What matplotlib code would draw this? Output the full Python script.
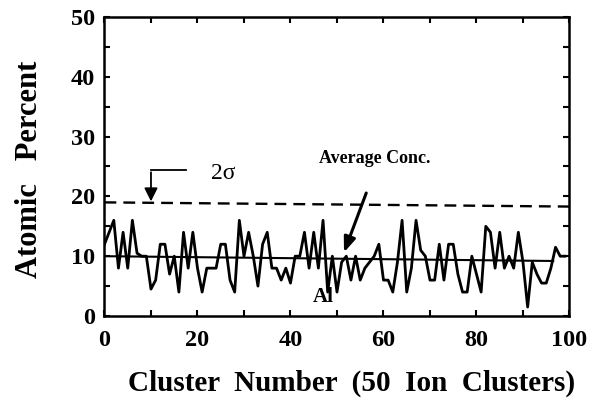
import numpy as np
import matplotlib.pyplot as plt
from matplotlib.ticker import MultipleLocator

# Al concentration per cluster
cluster = np.arange(100)
al_pct = [12, 14, 16, 8, 14, 8, 16, 10.5, 10, 10,
          4.5, 6, 12, 12, 7, 10, 4, 14, 8, 14,
          8, 4, 8, 8, 8, 12, 12, 6, 4, 16,
          10, 14, 10, 5, 12, 14, 8, 8, 6, 8,
          5.5, 10, 10, 14, 8, 14, 8, 16, 4, 10,
          4, 9, 10, 6, 10, 6, 8, 9, 10, 12,
          6, 6, 4, 9, 16, 4, 8, 16, 11, 10,
          6, 6, 12, 6, 12, 12, 7, 4, 4, 10,
          7, 4, 15, 14, 8, 14, 8, 10, 8, 14,
          9, 1.5, 9, 7, 5.5, 5.5, 8, 11.5, 10, 10]

avg_x = [0, 96.5]
avg_y = [10.0, 9.2]
sigma_x = [0, 100]
sigma_y = [19.0, 18.3]

font = "Liberation Serif"
plt.rcParams["font.family"] = font
plt.rcParams["font.weight"] = "bold"
plt.rcParams["axes.labelweight"] = "bold"

fig = plt.figure(figsize=(5.91, 4.03), dpi=100)
ax = fig.add_axes([0.1768, 0.2159, 0.7868, 0.7419])

ax.plot(cluster, al_pct, color="black", lw=2.0)
ax.plot(avg_x, avg_y, color="black", lw=1.5)
ax.plot(sigma_x, sigma_y, color="black", lw=1.7, ls=(0, (5, 3)))

ax.set_xlim(0, 100)
ax.set_ylim(0, 50)
ax.xaxis.set_major_locator(MultipleLocator(20))
ax.xaxis.set_minor_locator(MultipleLocator(10))
ax.yaxis.set_major_locator(MultipleLocator(10))
ax.yaxis.set_minor_locator(MultipleLocator(5))
ax.tick_params(which="both", direction="in", top=True, right=True,
               width=1.5, labelsize=17.5, length=4)
ax.tick_params(axis="x", pad=10)
ax.tick_params(axis="y", pad=7)
for s in ax.spines.values():
    s.set_linewidth(1.8)

# 2 sigma label with bent arrow
ax.plot([17.5, 10], [24.4, 24.4], color="black", lw=1.3)
ax.annotate("", xy=(10, 18.7), xytext=(10, 24.5),
            arrowprops=dict(arrowstyle="-|>,head_length=0.8,head_width=0.4",
                            color="black", lw=1.3))
ax.text(22.8, 23.9, "2σ", fontsize=17, fontweight="normal",
        va="center", ha="left")

# average concentration arrow
ax.text(58, 26.3, "Average Conc.", fontsize=13, va="center", ha="center")
ax.annotate("", xy=(51.3, 10.2), xytext=(56.5, 21),
            arrowprops=dict(arrowstyle="-|>,head_length=0.9,head_width=0.35",
                            color="black", lw=2.2))
ax.text(47, 3.2, "Al", fontsize=15, va="center", ha="center")

ax.set_xlabel("Cluster  Number  (50  Ion  Clusters)", fontsize=21)
ax.xaxis.set_label_coords(0.531, -0.18)
ax.set_ylabel("Atomic   Percent", fontsize=22)
ax.yaxis.set_label_coords(-0.13, 0.49)

fig.savefig("out.png", dpi=100)
